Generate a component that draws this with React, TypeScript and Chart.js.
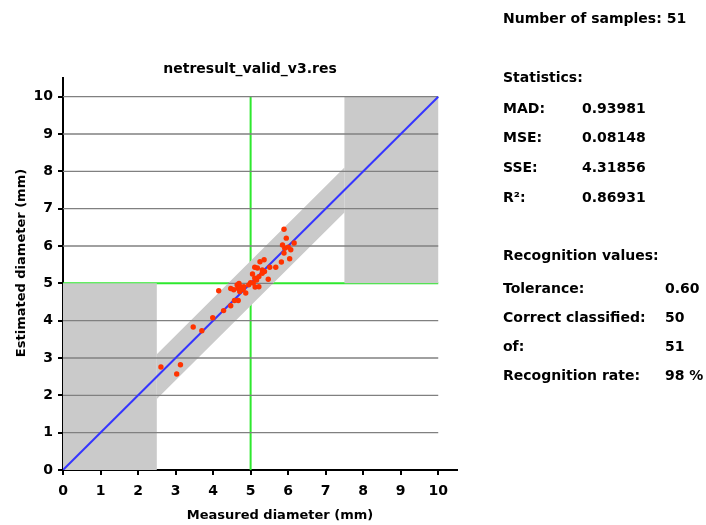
import React, { useEffect, useRef } from "react";
import { Chart, registerables } from "chart.js";

Chart.register(...registerables);

// ---- data ----
const measured = [
  2.61, 3.03, 3.13, 3.47, 3.7, 3.99, 4.15, 4.28, 4.47, 4.47, 4.57, 4.67, 4.64,
  4.69, 4.66, 4.73, 4.75, 4.8, 4.87, 4.71, 5.0, 5.05, 5.11, 5.16, 5.12, 5.22,
  5.11, 5.18, 5.25, 5.36, 5.31, 5.37, 5.47, 5.51, 5.67, 5.82, 5.89, 5.91, 5.95,
  5.89, 6.04, 6.07, 6.16, 6.0, 5.31, 4.95, 4.82, 5.07, 4.55, 5.22, 5.85,
];
const estimated = [
  2.76, 2.57, 2.82, 3.83, 3.73, 4.08, 4.8, 4.27, 4.4, 4.86, 4.54, 4.54, 4.96,
  5.0, 4.87, 4.91, 4.83, 4.84, 4.74, 4.78, 5.02, 5.25, 5.14, 5.09, 4.9, 4.91,
  5.43, 5.41, 5.58, 5.63, 5.36, 5.32, 5.11, 5.43, 5.43, 5.57, 5.81, 5.94, 6.21,
  6.45, 5.66, 5.9, 6.08, 5.97, 5.27, 4.96, 4.91, 5.01, 4.83, 5.18, 6.03,
];
const axisTicks = [0, 1, 2, 3, 4, 5, 6, 7, 8, 9, 10];
const gridLevels = [1, 2, 3, 4, 6, 7, 8, 9, 10];
const TOLERANCE = 0.6;
const THRESHOLD = 5;
const LOWER_LIMIT = 2.5;
const UPPER_LIMIT = 7.5;
const RANGE_MAX = 10;
const AXIS_MAX = 10.5;

const chartTitle = "netresult_valid_v3.res";
const xTitle = "Measured diameter (mm)";
const yTitle = "Estimated diameter (mm)";
const samplesText = "Number of samples: 51";
const statsHeader = "Statistics:";
const statsLabels = ["MAD:", "MSE:", "SSE:", "R²:"];
const statsValues = ["0.93981", "0.08148", "4.31856", "0.86931"];
const recHeader = "Recognition values:";
const recLabels = ["Tolerance:", "Correct classified:", "of:", "Recognition rate:"];
const recValues = ["0.60", "50", "51", "98 %"];

const FONT_FAMILY = "'DejaVu Sans', 'Liberation Sans', sans-serif";

export default function App() {
  const canvasRef = useRef<HTMLCanvasElement | null>(null);

  useEffect(() => {
    if (!canvasRef.current) return;
    const pts = measured.map((x, i) => ({ x, y: estimated[i] }));
    const gray = "#cacaca";
    const gridColor = "#808080";
    const green = "#2ee82e";
    const none = "rgba(0,0,0,0)";

    const leftRect = [
      { x: 0, y: 0 },
      { x: LOWER_LIMIT, y: 0 },
      { x: LOWER_LIMIT, y: THRESHOLD },
      { x: 0, y: THRESHOLD },
      { x: 0, y: 0 },
    ];
    const band = [
      { x: LOWER_LIMIT, y: LOWER_LIMIT - TOLERANCE },
      { x: UPPER_LIMIT, y: UPPER_LIMIT - TOLERANCE },
      { x: UPPER_LIMIT, y: UPPER_LIMIT + TOLERANCE },
      { x: LOWER_LIMIT, y: LOWER_LIMIT + TOLERANCE },
      { x: LOWER_LIMIT, y: LOWER_LIMIT - TOLERANCE },
    ];
    const rightRect = [
      { x: UPPER_LIMIT, y: THRESHOLD },
      { x: RANGE_MAX, y: THRESHOLD },
      { x: RANGE_MAX, y: RANGE_MAX },
      { x: UPPER_LIMIT, y: RANGE_MAX },
      { x: UPPER_LIMIT, y: THRESHOLD },
    ];

    const lineDs = (data: any[], color: string, width: number, order: number) => ({
      data,
      showLine: true,
      borderColor: color,
      borderWidth: width,
      pointRadius: 0,
      pointHoverRadius: 0,
      fill: false,
      tension: 0,
      order,
    });
    const shapeDs = (data: any[]) => ({
      data,
      showLine: true,
      borderColor: none,
      borderWidth: 0,
      backgroundColor: gray,
      pointRadius: 0,
      pointHoverRadius: 0,
      fill: "shape",
      tension: 0,
      order: 3,
    });

    const datasets: any[] = [
      {
        data: pts,
        showLine: false,
        backgroundColor: "#ff3300",
        borderColor: "#ff3300",
        borderWidth: 0,
        pointRadius: 2.7,
        pointHoverRadius: 2.7,
        order: 0,
      },
      lineDs([{ x: 0, y: 0 }, { x: RANGE_MAX, y: RANGE_MAX }], "#3535ff", 2, 1),
      ...gridLevels.map((v) => lineDs([{ x: 0, y: v }, { x: RANGE_MAX, y: v }], gridColor, 1.3, 2)),
      lineDs(
        [
          { x: THRESHOLD - TOLERANCE, y: THRESHOLD },
          { x: THRESHOLD + TOLERANCE, y: THRESHOLD },
        ],
        gridColor,
        1.3,
        2
      ),
      shapeDs(leftRect),
      shapeDs(band),
      shapeDs(rightRect),
      lineDs([{ x: THRESHOLD, y: 0 }, { x: THRESHOLD, y: RANGE_MAX }], green, 2, 4),
      lineDs([{ x: 0, y: THRESHOLD }, { x: RANGE_MAX, y: THRESHOLD }], green, 2, 4),
    ];

    const tickFont = { family: FONT_FAMILY, size: 14, weight: "bold" as const };

    const chart = new Chart(canvasRef.current, {
      type: "line",
      data: { datasets },
      options: {
        animation: false,
        responsive: false,
        events: [],
        layout: { padding: { left: 8, right: 249, top: 78, bottom: 25 } },
        plugins: {
          legend: { display: false },
          tooltip: { enabled: false },
          title: { display: false },
        },
        scales: {
          x: {
            type: "linear",
            min: 0,
            max: AXIS_MAX,
            z: 1,
            afterFit: (s: any) => {
              s.height = 30;
            },
            afterBuildTicks: (s: any) => {
              s.ticks = axisTicks.map((v) => ({ value: v }));
            },
            grid: {
              display: true,
              drawOnChartArea: false,
              drawTicks: true,
              tickLength: 5,
              color: "#000",
              lineWidth: 2,
            },
            border: { display: true, color: "#000", width: 2 },
            ticks: {
              font: tickFont,
              color: "#000",
              padding: 8,
              maxRotation: 0,
              autoSkip: false,
              callback: (v: any) => String(v),
            },
          },
          y: {
            type: "linear",
            min: 0,
            max: AXIS_MAX,
            z: 1,
            afterFit: (s: any) => {
              s.width = 55;
            },
            afterBuildTicks: (s: any) => {
              s.ticks = axisTicks.map((v) => ({ value: v }));
            },
            grid: {
              display: true,
              drawOnChartArea: false,
              drawTicks: true,
              tickLength: 5,
              color: "#000",
              lineWidth: 2,
            },
            border: { display: true, color: "#000", width: 2 },
            ticks: {
              font: tickFont,
              color: "#000",
              padding: 5,
              autoSkip: false,
              callback: (v: any) => String(v),
            },
          },
        },
      } as any,
    });
    return () => chart.destroy();
  }, []);

  const textBase: React.CSSProperties = {
    position: "absolute",
    fontFamily: FONT_FAMILY,
    fontWeight: "bold",
    fontSize: 14,
    lineHeight: "16px",
    color: "#000",
    whiteSpace: "nowrap",
    pointerEvents: "none",
  };
  const row = (text: string, left: number, cy: number, key?: string) => (
    <div key={key} style={{ ...textBase, left, top: cy - 8 }}>
      {text}
    </div>
  );
  const statsY = [108, 137, 167, 197];
  const recY = [288, 317, 346, 375];

  return (
    <div
      style={{
        position: "absolute",
        left: 0,
        top: 0,
        width: 706,
        height: 525,
        background: "#fff",
        overflow: "hidden",
      }}
    >
      <canvas
        ref={canvasRef}
        width={706}
        height={525}
        style={{ position: "absolute", left: 0, top: 0, width: 706, height: 525 }}
      />
      <div style={{ ...textBase, left: 100, width: 300, textAlign: "center", top: 60 }}>{chartTitle}</div>
      <div style={{ ...textBase, fontSize: 13, left: 130, width: 300, textAlign: "center", top: 507 }}>{xTitle}</div>
      <div
        style={{
          ...textBase,
          fontSize: 13,
          left: 21 - 150,
          top: 263 - 8,
          width: 300,
          textAlign: "center",
          transform: "rotate(-90deg)",
        }}
      >
        {yTitle}
      </div>
      {row(samplesText, 503, 18)}
      {row(statsHeader, 503, 77)}
      {statsLabels.map((t, i) => row(t, 503, statsY[i], "sl" + i))}
      {statsValues.map((t, i) => row(t, 582, statsY[i], "sv" + i))}
      {row(recHeader, 503, 255)}
      {recLabels.map((t, i) => row(t, 503, recY[i], "rl" + i))}
      {recValues.map((t, i) => row(t, 665, recY[i], "rv" + i))}
    </div>
  );
}
